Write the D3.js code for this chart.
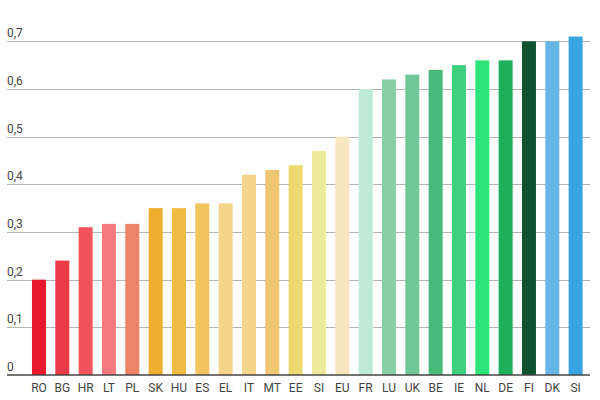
<!DOCTYPE html>
<html>
<head>
<meta charset="utf-8">
<script src="https://cdn.jsdelivr.net/npm/d3@7"></script>
<style>
html,body{margin:0;padding:0;background:#fff;}
svg{display:block;font-family:Roboto,"Noto Sans",sans-serif;}
</style>
</head>
<body>
<svg id="chart" width="600" height="400"></svg>
<script>
const categories = ["RO","BG","HR","LT","PL","SK","HU","ES","EL","IT","MT","EE","SI","EU","FR","LU","UK","BE","IE","NL","DE","FI","DK","SI"];
const values = [0.20,0.24,0.31,0.317,0.317,0.35,0.35,0.36,0.36,0.42,0.43,0.44,0.47,0.50,0.60,0.62,0.63,0.64,0.65,0.66,0.66,0.70,0.70,0.71];
const colors = ["#e8192c","#ec3a48","#f2545c","#f47a80","#ed8467","#eeae30","#efbb42","#f2c45e","#f5d48c","#f5d48c","#f0c672","#eed870","#eeea9c","#f8e6c0","#c0ead8","#88cfa8","#70c898","#48bb7a","#3fd07f","#2ee47a","#1fae5a","#0f5230","#65b6e4","#39a5e0"];
const yTicks = [0,0.1,0.2,0.3,0.4,0.5,0.6,0.7];
const yTickLabels = ["0","0,1","0,2","0,3","0,4","0,5","0,6","0,7"];

(function(){
const svg = d3.select("#chart");
const mLeft = 7, mRight = 590, mTop = 41.3, mBottom = 375;

const y = d3.scaleLinear().domain([0,0.7]).range([mBottom, mTop]);
const idx = d3.range(categories.length);
const x = d3.scaleBand().domain(idx).range([27.3, 587.3]).paddingInner(0.4).paddingOuter(0.2);

// gridlines
svg.append("g").selectAll("line").data(yTicks.filter(d => d > 0)).join("line")
  .attr("x1", mLeft).attr("x2", mRight)
  .attr("y1", d => Math.round(y(d)) + 0.5).attr("y2", d => Math.round(y(d)) + 0.5)
  .attr("stroke", "#b4b4b4").attr("stroke-width", 1);

// y labels
svg.append("g").selectAll("text").data(yTicks).join("text")
  .attr("x", mLeft).attr("y", d => y(d) - 4)
  .attr("fill", "#444").attr("font-size", 12)
  .text((d,i) => yTickLabels[i]);

// bars
svg.append("g").selectAll("rect").data(idx).join("rect")
  .attr("x", i => x(i)).attr("width", x.bandwidth())
  .attr("y", i => y(values[i])).attr("height", i => y(0) - y(values[i]))
  .attr("fill", i => colors[i]);

// x axis
const xAxis = d3.axisBottom(x).tickSize(0).tickPadding(8).tickFormat(i => categories[i]);
const gx = svg.append("g").attr("transform", `translate(0,${mBottom})`).call(xAxis);
gx.select(".domain").remove();
gx.selectAll("text").attr("fill", "#444").attr("font-size", 12).attr("font-family", "Roboto,sans-serif");
svg.append("line").attr("x1", mLeft).attr("x2", mRight).attr("y1", mBottom).attr("y2", mBottom)
  .attr("stroke", "#444").attr("stroke-width", 1.5);
})();
</script>
</body>
</html>
